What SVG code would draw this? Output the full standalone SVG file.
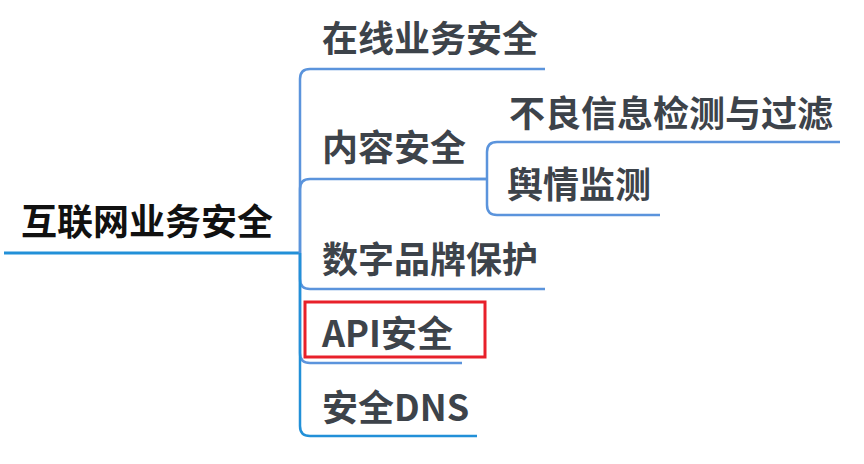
<svg xmlns="http://www.w3.org/2000/svg" width="864" height="464" viewBox="0 0 864 464">
<style>
text{font-family:"Noto Sans CJK SC","Microsoft YaHei",sans-serif;font-weight:bold;font-size:36px;fill:#3d434a}
.root{fill:#111}
.ln{fill:none;stroke:#5b94dc;stroke-width:2.5;stroke-linecap:butt}
.dk{stroke:#2290d8}
</style>
<rect width="864" height="464" fill="#fff"/>
<g id="connectors">
<path class="ln dk" d="M4,253 H300" style="stroke-width:3"/>
<path class="ln" d="M300,253 V79 Q300,69 310,69 H545"/>
<path class="ln" d="M300,253 V189 Q300,179 310,179 H487"/>
<path class="ln" d="M300,253 V279 Q300,289 310,289 H545"/>
<path class="ln" d="M300,253 V353 Q300,363 310,363 H462"/>
<path class="ln dk" d="M300,253 V426 Q300,436 310,436 H477"/>
<path class="ln" d="M470,179 H487"/>
<path class="ln" d="M487,179 V152 Q487,142 497,142 H840"/>
<path class="ln" d="M487,179 V205 Q487,215 497,215 H660"/>
</g>
<g id="root"><text class="root" x="21" y="235">互联网业务安全</text></g>
<g id="n1"><text x="322" y="52">在线业务安全</text></g>
<g id="n2"><text x="322" y="161">内容安全</text></g>
<g id="n2a"><text x="509" y="127">不良信息检测与过滤</text></g>
<g id="n2b"><text x="507" y="198">舆情监测</text></g>
<g id="n3"><text x="322" y="273">数字品牌保护</text></g>
<g id="n4"><text x="322" y="347">API安全</text><rect x="305" y="302" width="180" height="55" fill="none" stroke="#e8202a" stroke-width="3"/></g>
<g id="n5"><text x="322" y="421">安全DNS</text></g>
</svg>
